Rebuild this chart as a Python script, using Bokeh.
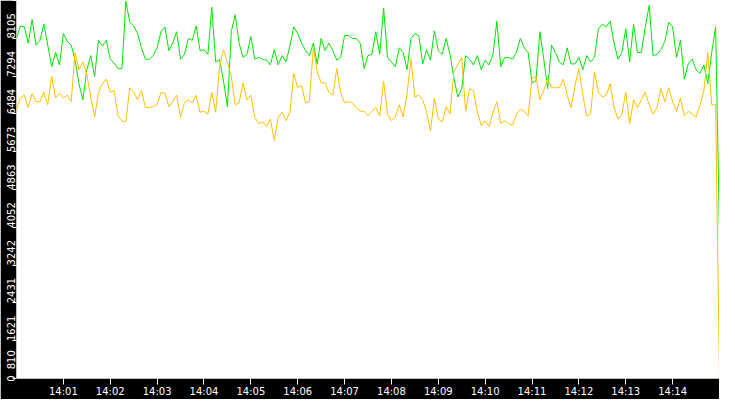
import math
import pandas as pd
from bokeh.plotting import figure
from bokeh.models import Range1d, FixedTicker, DatetimeTickFormatter
from bokeh.embed import file_html
from bokeh.resources import INLINE

# ---- data (one sample every 5 s from 14:00:00) ----
start_time = "2024-01-01 14:00:00"
end_time = "2024-01-01 14:15:00"
sample_seconds = 5

green_values = [
    7290, 7560, 7540, 7190, 7700, 7150, 7250, 7600, 7150, 6685,
    6990, 6725, 7395, 7230, 7150, 6825, 6320, 5975, 6620, 6925,
    6480, 7250, 7130, 7250, 6845, 6765, 6645, 6645, 8085, 7640,
    7560, 7395, 7090, 6845, 6845, 6925, 7090, 7435, 7540, 7030,
    7190, 7435, 6845, 6950, 7290, 7250, 7560, 7030, 7050, 6950,
    7960, 6785, 6845, 6380, 5830, 7435, 7800, 7190, 6885, 6950,
    7335, 6845, 6885, 6845, 6825, 6725, 7050, 6725, 6925, 6785,
    7130, 7540, 7395, 7190, 7030, 6925, 7190, 6745, 7290, 7030,
    7190, 7030, 6825, 6885, 7355, 7355, 7290, 7290, 7190, 6645,
    6925, 6950, 7435, 6950, 7940, 6885, 6785, 6685, 7090, 6990,
    6620, 7290, 7395, 7355, 6745, 7050, 6825, 7455, 7030, 6950,
    7290, 6950, 6440, 6035, 6215, 6925, 6845, 6725, 6925, 6620,
    6825, 6725, 6950, 7660, 6685, 6885, 6885, 6845, 6990, 7290,
    7090, 6990, 6340, 6380, 7435, 6845, 6215, 7150, 6990, 6785,
    6725, 7090, 6745, 6745, 6885, 6620, 6925, 6785, 6885, 7500,
    7600, 7540, 7660, 7190, 6845, 6990, 7500, 6785, 7600, 6990,
    6990, 7540, 8000, 6925, 6950, 7050, 7230, 7640, 7540, 6885,
    7250, 6420, 6745, 6845, 6620, 6540, 6725, 6320, 6990, 7540,
    3090,
]

yellow_values = [
    5770, 6015, 6075, 5810, 6115, 5935, 5935, 6135, 5870, 6480,
    6015, 6115, 6015, 6075, 5935, 6990, 6620, 6785, 6520, 6035,
    5605, 6135, 6320, 6420, 6135, 6175, 5630, 5525, 5505, 6235,
    6135, 5975, 6175, 5810, 5810, 5830, 5870, 6135, 6115, 5830,
    5935, 6075, 5605, 5910, 5975, 5910, 6075, 5710, 5730, 5670,
    6135, 5710, 6685, 7050, 6785, 6480, 5870, 5910, 6340, 5975,
    6075, 5605, 5465, 5505, 5405, 5565, 5100, 5605, 5710, 5525,
    5710, 6540, 6235, 6280, 5910, 5935, 7090, 6580, 6340, 6340,
    6135, 6075, 6645, 6135, 5910, 5935, 5910, 5810, 5730, 5730,
    5630, 5730, 5810, 5630, 6380, 5670, 5525, 5605, 5870, 5605,
    6115, 6845, 6035, 6075, 5975, 5710, 5305, 6015, 5565, 5505,
    5830, 5670, 6580, 6725, 6885, 5730, 6215, 6175, 5710, 5425,
    5525, 5405, 5710, 5935, 5465, 5525, 5465, 5425, 5670, 5770,
    5730, 5630, 6440, 6480, 5975, 6175, 6440, 6235, 6235, 6235,
    6420, 6075, 5810, 6280, 6645, 6075, 5630, 5670, 6580, 6135,
    6035, 6075, 6320, 5810, 5565, 5670, 6135, 5465, 5975, 5810,
    5975, 6135, 5870, 5670, 5810, 6215, 5935, 6235, 5935, 5730,
    6015, 5630, 5730, 5670, 5605, 5870, 6175, 6990, 5870, 5870,
    0,
]

y_ticks = [0, 810, 1621, 2431, 3242, 4052, 4863, 5673, 6484, 7294, 8105]
x_tick_labels = ["14:01", "14:02", "14:03", "14:04", "14:05", "14:06", "14:07",
                 "14:08", "14:09", "14:10", "14:11", "14:12", "14:13", "14:14"]

# ---- layout / style ----
WIDTH, HEIGHT = 719, 399
BOTTOM_AXIS_PX = 20          # approx. height of the time axis band
CHAR_PX = 6.36               # approx. width of a digit at 10px DejaVu Sans

# ---- build ----
times = pd.date_range(start_time, periods=len(green_values), freq=f"{sample_seconds}s")
day = start_time.split(" ")[0]
x_tick_ms = [pd.Timestamp(f"{day} {lab}:00").value // 10**6 for lab in x_tick_labels]

y_max = max(y_ticks)
units_per_px = y_max / (HEIGHT - BOTTOM_AXIS_PX)

# vertical tick labels hang below their tick (the lowest one sits above it)
label_pos = []
label_text = {}
for t in y_ticks:
    half = len(str(t)) * CHAR_PX / 2 * units_per_px
    pos = int(round(t + half if t == min(y_ticks) else t - half))
    label_pos.append(pos)
    label_text[pos] = str(t)

p = figure(width=WIDTH, height=HEIGHT, x_axis_type="datetime",
           output_backend="svg", toolbar_location=None,
           x_range=Range1d(pd.Timestamp(start_time), pd.Timestamp(end_time)),
           y_range=Range1d(0, y_max),
           min_border_left=0, min_border_top=0, min_border_right=0, min_border_bottom=0)

p.background_fill_color = "white"
p.border_fill_color = "black"
p.outline_line_color = None
p.grid.visible = False

# x axis
xa = p.xaxis[0]
xa.ticker = FixedTicker(ticks=x_tick_ms)
xa.formatter = DatetimeTickFormatter(minutes="%H:%M", hours="%H:%M", seconds="%H:%M", minsec="%H:%M")
xa.axis_line_color = None
xa.major_tick_line_color = "white"
xa.major_tick_out = 6
xa.major_tick_in = 0
xa.minor_tick_line_color = None
xa.major_label_text_color = "white"
xa.major_label_text_font = "DejaVu Sans"
xa.major_label_text_font_size = "10px"
xa.major_label_standoff = 1

# y axis: tick marks as "minor" ticks at the values, labels at shifted positions
ya = p.yaxis[0]
ya.ticker = FixedTicker(ticks=label_pos, minor_ticks=y_ticks)
ya.major_label_overrides = label_text
ya.axis_line_color = None
ya.major_tick_line_color = None
ya.major_tick_out = 0
ya.major_tick_in = 0
ya.minor_tick_line_color = "white"
ya.minor_tick_out = 4
ya.minor_tick_in = 0
ya.major_label_orientation = math.pi / 2
ya.major_label_text_color = "white"
ya.major_label_text_font = "DejaVu Sans"
ya.major_label_text_font_size = "10px"
ya.major_label_standoff = 1

p.line(times, green_values, line_color="#00E600", line_width=1)
p.line(times, yellow_values, line_color="#FFC000", line_width=1)

open("out.html", "w").write(file_html(p, INLINE))
